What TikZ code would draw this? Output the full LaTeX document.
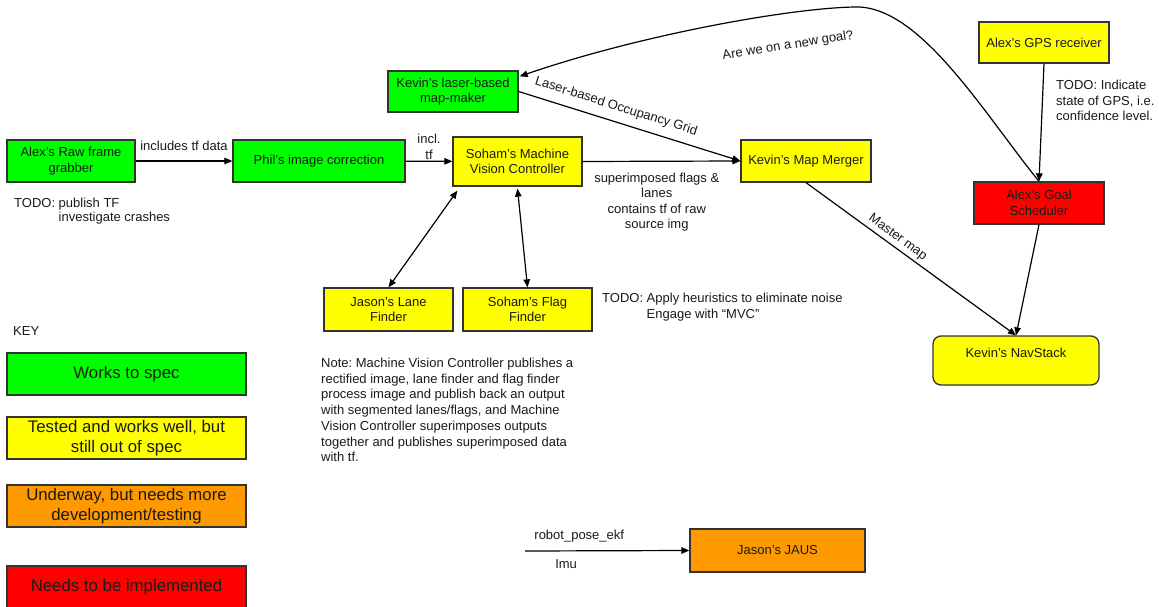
\documentclass[tikz,border=0pt]{standalone}
\usepackage{fontspec}
\setmainfont{Liberation Sans}
\usetikzlibrary{arrows.meta,calc}
\definecolor{gr}{HTML}{00FF00}
\definecolor{ye}{HTML}{FFFF00}
\definecolor{orng}{HTML}{FF9900}
\definecolor{rd}{HTML}{FF0000}
\definecolor{bd}{HTML}{333333}
\definecolor{tx}{HTML}{1A1A1A}
\frenchspacing
\begin{document}
\begin{tikzpicture}[x=1pt,y=-1pt,
 every node/.style={font=\fontsize{13}{15.4}\selectfont, text=tx},
 box/.style={draw=bd, line width=1.3pt, align=center, inner sep=0pt},
 keybox/.style={box, minimum width=239pt, minimum height=42pt, font=\fontsize{16.8}{20}\selectfont},
 arr/.style={line width=1.2pt, -{Triangle[length=8pt,width=6.5pt]}},
 darr/.style={line width=1.2pt, {Triangle[length=8pt,width=6.5pt]}-{Triangle[length=8pt,width=6.5pt]}},
 lbl/.style={inner sep=0pt, align=center},
 txt/.style={inner sep=0pt, align=left},
]
\fill[white] (0,0) rectangle (1159,607);
\useasboundingbox (0,0) rectangle (1159,607);

% main boxes
\node[box, fill=gr, minimum width=128pt, minimum height=42pt] (raw) at (71,161) {Alex’s Raw frame\\grabber};
\node[box, fill=gr, minimum width=172pt, minimum height=42pt] (phil) at (319,161) {Phil’s image correction};
\node[box, fill=gr, minimum width=130pt, minimum height=41pt] (laser) at (453,91.5) {Kevin’s laser-based\\map-maker};
\node[box, fill=ye, minimum width=129pt, minimum height=49pt] (mvc) at (517.5,161.5) {Soham’s Machine\\Vision Controller};
\node[box, fill=ye, minimum width=130pt, minimum height=42pt] (merger) at (806,161) {Kevin’s Map Merger};
\node[box, fill=ye, minimum width=130pt, minimum height=41pt] (gps) at (1044,42.5) {Alex’s GPS receiver};
\node[box, fill=rd, minimum width=130pt, minimum height=42pt] (goal) at (1039,203) {Alex’s Goal\\Scheduler};
\node[box, fill=ye, rounded corners=8pt, minimum width=166pt, minimum height=49pt] (nav) at (1016,360.5) {Kevin’s NavStack\\\phantom{K}};
\node[box, fill=ye, minimum width=129pt, minimum height=43pt] (lane) at (388.5,309.5) {Jason’s Lane\\Finder};
\node[box, fill=ye, minimum width=129pt, minimum height=43pt] (flag) at (527.5,309.5) {Soham’s Flag\\Finder};
\node[box, fill=orng, minimum width=175pt, minimum height=43pt] (jaus) at (777.5,550.5) {Jason’s JAUS};

% key
\node[txt, anchor=west] (key) at (13,331) {KEY};
\node[keybox, fill=gr] (k1) at (126.5,374) {Works to spec};
\node[keybox, fill=ye] (k2) at (126.5,438) {Tested and works well, but\\still out of spec};
\node[keybox, fill=orng] (k3) at (126.5,506) {Underway, but needs more\\development/testing};
\node[keybox, fill=rd] (k4) at (126.5,587) {Needs to be implemented};

% free texts
\node[txt, anchor=west] (todo1) at (14,212) {\renewcommand\arraystretch{0.92}\begin{tabular}{@{}l@{ }l}TODO: & publish TF\\ & investigate crashes\end{tabular}};
\node[txt, anchor=west] (todo2) at (602,307.5) {\renewcommand\arraystretch{0.98}\begin{tabular}{@{}l@{ }l}TODO: & Apply heuristics to eliminate noise\\ & Engage with “MVC”\end{tabular}};
\node[txt, anchor=west] (todo3) at (1056,100.5) {TODO: Indicate\\state of GPS, i.e.\\confidence level.};
\node[txt, anchor=west, font=\fontsize{13}{15.7}\selectfont] (note) at (321,410) {Note: Machine Vision Controller publishes a\\rectified image, lane finder and flag finder\\process image and publish back an output\\with segmented lanes/flags, and Machine\\Vision Controller superimposes outputs\\together and publishes superimposed data\\with tf.};

% connectors
\draw[arr] (raw) -- node[lbl, above=9.3pt] (l1) {includes tf data} (phil);
\draw[arr] (phil) -- node[lbl, above=1.5pt] (l2) {incl.\\tf} (mvc);
\draw[arr] (mvc.east) -- node[lbl, below=11pt, pos=0.47] (l3) {superimposed flags \&\\lanes\\contains tf of raw\\source img} (merger.west);
\draw[arr] (laser.east) -- node[lbl, sloped, above=8pt, pos=0.42] (l4) {Laser-based Occupancy Grid} (merger.west);
\coordinate (lq) at ([xshift=1pt,yshift=-6pt]laser.north east);
\draw[arr] (goal.north) .. controls (985,115) and (920,5) .. (855,7) .. controls (790,8) and (640,35) .. (lq);
\node[lbl, rotate=9] (q) at (788,46) {Are we on a new goal?};
\draw[arr] (gps.south) -- (goal.north);
\draw[arr] (goal.south) -- (nav.north);
\draw[arr] (merger.south) -- node[lbl, sloped, above=3pt, pos=0.41] (l5) {Master map} (nav.north);
\draw[darr] ([xshift=5pt,yshift=-4pt]mvc.south west) -- (lane.north);
\draw[darr] ([yshift=-2pt]mvc.south) -- (flag.north);
\coordinate (ekf) at (525,551);
\draw[arr] (ekf) -- node[lbl, above=8pt, pos=0.33] (l6) {robot\_pose\_ekf} node[lbl, below=8pt, pos=0.25] (l7) {Imu} (jaus.west);
\end{tikzpicture}
\end{document}
